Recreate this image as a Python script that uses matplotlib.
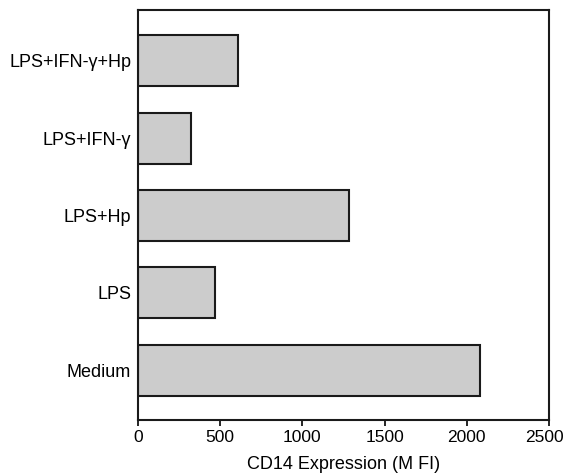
import matplotlib
matplotlib.use("Agg")
import matplotlib.pyplot as plt
import matplotlib.transforms as mtransforms

plt.rcParams['font.family'] = ['Liberation Sans', 'DejaVu Sans']

categories = ["Medium", "LPS", "LPS+Hp", "LPS+IFN-\u03b3", "LPS+IFN-\u03b3+Hp"]
values = [2080, 468, 1283, 322, 608]
xticks = [0, 500, 1000, 1500, 2000, 2500]

fig = plt.figure(figsize=(5.67, 4.74), dpi=100)
ax = fig.add_axes([138/567, 1-420/474, (549-138)/567, (420-10)/474])

ax.barh(range(len(categories)), values, height=0.66, color='#cccccc',
        edgecolor='#1a1a1a', linewidth=1.5)
ax.set_yticks(range(len(categories)))
ax.set_yticklabels(categories, fontsize=13)
ax.tick_params(axis='y', length=0, pad=5)
ax.set_xticks(xticks)
ax.set_xticklabels([str(t) for t in xticks], fontsize=12.5)
ax.tick_params(axis='x', length=4, width=1.2, direction='out', pad=3)
ax.set_xlim(0, 2500)
ax.set_ylim(-0.647, 4.66)
ax.set_xlabel("CD14 Expression (M FI)", fontsize=13, labelpad=8)
for s in ax.spines.values():
    s.set_linewidth(1.5)
    s.set_color('#1a1a1a')

# nudge the last tick label so it stays inside the figure, as in the reference
last = ax.get_xticklabels()[-1]
last.set_transform(last.get_transform() +
                   mtransforms.ScaledTranslation(-5/100, 0, fig.dpi_scale_trans))

fig.savefig("out.png", dpi=100)
